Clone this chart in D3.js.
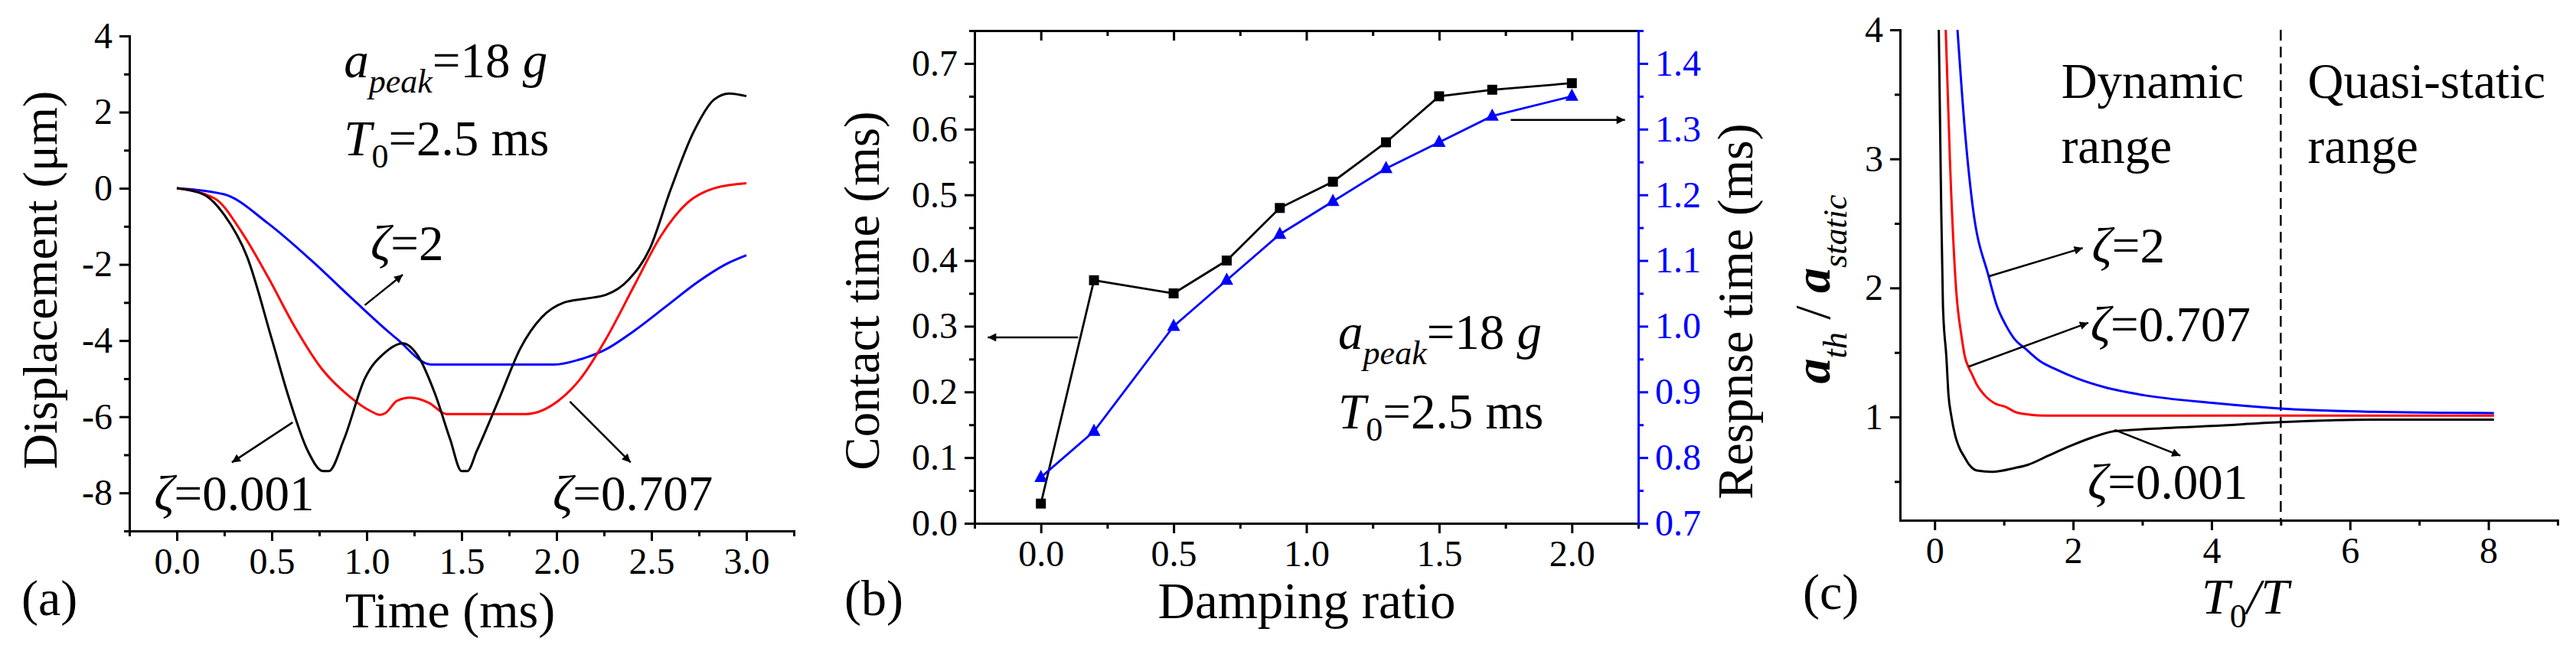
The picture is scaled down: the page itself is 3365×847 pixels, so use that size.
<!DOCTYPE html>
<html>
<head>
<meta charset="utf-8">
<script src="https://d3js.org/d3.v7.min.js"></script>
</head>
<body style="margin:0; background:#fff">
<div id="fig"></div>
<script>

// ---------- data ----------

// (a) displacement (um) vs time (ms)
var timeA_001 = [0, 0.14, 0.25, 0.37, 0.5, 0.59, 0.69, 0.77, 0.80, 0.88, 0.99, 1.1, 1.19, 1.27, 1.36, 1.44, 1.50, 1.53, 1.58, 1.7, 1.81, 1.92, 2.04, 2.15, 2.26, 2.38, 2.49, 2.6, 2.72, 2.83, 2.91, 3.0];
var dispA_001 = [0, -0.16, -0.7, -1.8, -3.96, -5.5, -6.9, -7.43, -7.43, -6.6, -5.0, -4.3, -4.07, -4.4, -5.4, -6.6, -7.43, -7.43, -6.9, -5.5, -4.2, -3.4, -3.0, -2.9, -2.8, -2.4, -1.6, -0.05, 1.46, 2.33, 2.49, 2.42];
var timeA_707 = [0, 0.2, 0.34, 0.48, 0.62, 0.76, 0.91, 1.02, 1.07, 1.1, 1.16, 1.23, 1.33, 1.42, 1.84, 2.01, 2.12, 2.26, 2.41, 2.55, 2.69, 2.83, 3.0];
var dispA_707 = [0, -0.27, -1.14, -2.33, -3.63, -4.72, -5.47, -5.85, -5.95, -5.9, -5.58, -5.5, -5.64, -5.93, -5.93, -5.58, -5.04, -3.96, -2.55, -1.25, -0.38, 0, 0.13];
var timeA_2 = [0, 0.25, 0.48, 0.71, 0.93, 1.16, 1.34, 1.99, 2.12, 2.26, 2.41, 2.58, 2.75, 2.89, 3.0];
var dispA_2 = [0, -0.16, -0.92, -1.9, -2.93, -3.96, -4.63, -4.63, -4.5, -4.23, -3.74, -3.09, -2.44, -2.0, -1.76];

// (b) contact / response time vs damping ratio
var dampingB = [0, 0.2, 0.5, 0.7, 0.9, 1.1, 1.3, 1.5, 1.7, 2.0];
var contactB = [0.03, 0.37, 0.35, 0.40, 0.48, 0.52, 0.58, 0.65, 0.66, 0.67];
var responseB = [0.77, 0.84, 1.00, 1.07, 1.14, 1.19, 1.24, 1.28, 1.32, 1.35];

// (c) a_th / a_static vs T0/T
var ratioC_001 = [0.06, 0.09, 0.12, 0.17, 0.20, 0.24, 0.30, 0.35, 0.43, 0.50, 0.61, 0.83, 1.16, 1.35, 1.64, 1.98, 2.27, 2.60, 3.01, 4.0, 5.0, 6.35, 8.08];
var accC_001 = [4.0, 2.8, 1.86, 1.46, 1.17, 1.01, 0.85, 0.77, 0.69, 0.63, 0.585, 0.575, 0.605, 0.63, 0.70, 0.78, 0.84, 0.89, 0.905, 0.93, 0.96, 0.98, 0.98];
var ratioC_707 = [0.16, 0.22, 0.31, 0.39, 0.44, 0.49, 0.54, 0.61, 0.72, 0.89, 1.02, 1.16, 1.35, 1.61, 8.08];
var accC_707 = [4.0, 3.0, 1.99, 1.62, 1.46, 1.385, 1.33, 1.25, 1.17, 1.10, 1.08, 1.04, 1.02, 1.01, 1.01];
var ratioC_2 = [0.33, 0.44, 0.55, 0.78, 0.90, 1.02, 1.16, 1.31, 1.53, 1.75, 2.05, 2.46, 3.01, 4.0, 5.18, 6.35, 8.08];
var accC_2 = [4.0, 3.2, 2.63, 2.09, 1.86, 1.72, 1.60, 1.53, 1.43, 1.37, 1.30, 1.23, 1.17, 1.11, 1.06, 1.04, 1.03];

// tick values
var ticksA_x = [0, 0.5, 1, 1.5, 2, 2.5, 3];
var minorA_x = [-0.25, 0.25, 0.75, 1.25, 1.75, 2.25, 2.75, 3.25];
var ticksA_y = [-8, -6, -4, -2, 0, 2, 4];
var minorA_y = [-9, -7, -5, -3, -1, 1, 3];
var ticksB_x = [0, 0.5, 1, 1.5, 2];
var minorB_x = [-0.25, 0.25, 0.75, 1.25, 1.75, 2.25];
var ticksB_yl = [0, 0.1, 0.2, 0.3, 0.4, 0.5, 0.6, 0.7];
var minorB_yl = [0.05, 0.15, 0.25, 0.35, 0.45, 0.55, 0.65, 0.75];
var ticksB_yr = [0.7, 0.8, 0.9, 1.0, 1.1, 1.2, 1.3, 1.4];
var minorB_yr = [0.75, 0.85, 0.95, 1.05, 1.15, 1.25, 1.35, 1.45];
var ticksC_x = [0, 2, 4, 6, 8];
var minorC_x = [1, 3, 5, 7, 9];
var ticksC_y = [1, 2, 3, 4];
var minorC_y = [0.5, 1.5, 2.5, 3.5];

// ---------- drawing ----------

var serif = "Liberation Serif";

var svg = d3.select("#fig").append("svg")
    .attr("width", 3365)
    .attr("height", 847)
    .style("display", "block")
    .style("background", "#fff");

var blue = "#0000ff";

// arrow head
svg.append("defs").append("marker")
    .attr("id", "head")
    .attr("viewBox", "0 0 10 10")
    .attr("refX", 10).attr("refY", 5)
    .attr("markerUnits", "userSpaceOnUse")
    .attr("markerWidth", 18).attr("markerHeight", 11)
    .attr("orient", "auto")
  .append("path")
    .attr("d", "M0,0 L10,5 L0,10 z")
    .attr("fill", "#000");

function zip(xs, ys) {
  return xs.map(function(x, i) { return {x: x, y: ys[i]}; });
}

// draws one axis: major ticks with labels + minor ticks
function axis(g, maker, scale, majors, minors, fmt, color, inward) {
  var sgn = inward ? -1 : 1;
  var a = g.append("g")
    .call(maker(scale).tickValues(majors).tickSize(13 * sgn).tickSizeOuter(0)
      .tickPadding(inward ? 20 : 9).tickFormat(fmt));
  a.selectAll("path, line").attr("stroke", color).attr("stroke-width", 3);
  a.select(".domain").attr("stroke-linecap", "square");
  a.selectAll("text")
    .attr("fill", color)
    .style("font-size", "48px");
  var m = g.append("g")
    .call(maker(scale).tickValues(minors).tickSize(7 * sgn).tickFormat(""));
  m.select(".domain").remove();
  m.selectAll("line").attr("stroke", color).attr("stroke-width", 3);
  return a;
}

function curve(g, xs, ys, xs_, ys_, color) {
  g.append("path")
    .datum(zip(xs_, ys_))
    .attr("fill", "none")
    .attr("stroke", color)
    .attr("stroke-width", 3)
    .attr("stroke-linejoin", "round")
    .attr("d", d3.line()
      .curve(d3.curveMonotoneX)
      .x(function(d) { return xs(d.x); })
      .y(function(d) { return ys(d.y); }));
}

function arrow(g, x1, y1, x2, y2) {
  g.append("line")
    .attr("x1", x1).attr("y1", y1).attr("x2", x2).attr("y2", y2)
    .attr("stroke", "#000").attr("stroke-width", 2.5)
    .attr("marker-end", "url(#head)");
}

// text like  ζ=0.707
function zeta(g, x, y, val) {
  var t = g.append("text").attr("x", x).attr("y", y).style("font-size", "65px");
  t.append("tspan").style("font-style", "italic").text("ζ");
  t.append("tspan").text("=" + val);
}

// a_peak=18 g  /  T0=2.5 ms
function peakText(g, x, y1, y2) {
  var t = g.append("text").attr("x", x).attr("y", y1).style("font-size", "65px");
  t.append("tspan").style("font-style", "italic").text("a");
  t.append("tspan").style("font-style", "italic").style("font-size", "44px").attr("dy", 20).text("peak");
  t.append("tspan").attr("dy", -20).text("=18 ");
  t.append("tspan").style("font-style", "italic").text("g");
  var s = g.append("text").attr("x", x).attr("y", y2).style("font-size", "65px");
  s.append("tspan").style("font-style", "italic").text("T");
  s.append("tspan").style("font-size", "44px").attr("dy", 16).text("0");
  s.append("tspan").attr("dy", -16).text("=2.5 ms");
}

function label(g, x, y, txt, size, rot) {
  return g.append("text")
    .attr("transform", "translate(" + x + "," + y + ")" + (rot ? " rotate(-90)" : ""))
    .attr("text-anchor", "middle")
    .style("font-size", size + "px")
    .text(txt);
}

var fmt1 = function(d) { return d.toFixed(1); };
var fmt0 = function(d) { return String(d); };

// ================= panel (a) =================
var ga = svg.append("g");
var xA = d3.scaleLinear().domain([-0.25, 3.25]).range([169, 1037]);
var yA = d3.scaleLinear().domain([-9, 4]).range([694, 47]);

axis(ga.append("g").attr("transform", "translate(0,694)"), d3.axisBottom, xA, ticksA_x, minorA_x, fmt1, "#000");
axis(ga.append("g").attr("transform", "translate(169,0)"), d3.axisLeft, yA, ticksA_y, minorA_y, fmt0, "#000");

curve(ga, xA, yA, timeA_2, dispA_2, blue);
curve(ga, xA, yA, timeA_707, dispA_707, "#ff0000");
curve(ga, xA, yA, timeA_001, dispA_001, "#000");

arrow(ga, xA(0.99), yA(-3.07), xA(1.19), yA(-2.27));
arrow(ga, xA(0.61), yA(-6.15), xA(0.29), yA(-7.2));
arrow(ga, xA(2.07), yA(-5.6), xA(2.39), yA(-7.2));

zeta(ga, xA(1.02), yA(-1.89), "2");
zeta(ga, xA(-0.12), yA(-8.45), "0.001");
zeta(ga, xA(1.98), yA(-8.45), "0.707");
peakText(ga, xA(0.88), yA(2.91), yA(0.86));

label(ga, 588, 820, "Time (ms)", 66);
label(ga, 74, 366, "Displacement (μm)", 64, true);
ga.append("text").attr("x", 28).attr("y", 804).style("font-size", "66px").text("(a)");

// ================= panel (b) =================
var gb = svg.append("g");
var xB = d3.scaleLinear().domain([-0.25, 2.25]).range([1273, 2140]);
var yBL = d3.scaleLinear().domain([0, 0.75]).range([684, 40]);
var yBR = d3.scaleLinear().domain([0.7, 1.45]).range([684, 40]);

axis(gb.append("g").attr("transform", "translate(0,40)"), d3.axisTop, xB, ticksB_x, minorB_x, "", "#000", true);
axis(gb.append("g").attr("transform", "translate(0,684)"), d3.axisBottom, xB, ticksB_x, minorB_x, fmt1, "#000");
axis(gb.append("g").attr("transform", "translate(1273,0)"), d3.axisLeft, yBL, ticksB_yl, minorB_yl, fmt1, "#000");
axis(gb.append("g").attr("transform", "translate(2140,0)"), d3.axisRight, yBR, ticksB_yr, minorB_yr, fmt1, blue);

var lineB = function(ys) {
  return d3.line().x(function(d) { return xB(d.x); }).y(function(d) { return ys(d.y); });
};
gb.append("path").datum(zip(dampingB, contactB))
  .attr("fill", "none").attr("stroke", "#000").attr("stroke-width", 2.8)
  .attr("d", lineB(yBL));
gb.selectAll(".sq").data(zip(dampingB, contactB)).enter().append("rect")
  .attr("x", function(d) { return xB(d.x) - 6.5; })
  .attr("y", function(d) { return yBL(d.y) - 6.5; })
  .attr("width", 13).attr("height", 13)
  .attr("fill", "#000");

gb.append("path").datum(zip(dampingB, responseB))
  .attr("fill", "none").attr("stroke", blue).attr("stroke-width", 2.8)
  .attr("d", lineB(yBR));
gb.selectAll(".tri").data(zip(dampingB, responseB)).enter().append("path")
  .attr("transform", function(d) { return "translate(" + xB(d.x) + "," + yBR(d.y) + ")"; })
  .attr("d", "M0,-10 L8.5,6 L-8.5,6 Z")
  .attr("fill", blue);

arrow(gb, xB(0.14), yBL(0.283), xB(-0.2), yBL(0.283));
arrow(gb, xB(1.77), yBR(1.314), xB(2.2), yBR(1.314));

peakText(gb, xB(1.12), yBL(0.265), yBL(0.144));

label(gb, 1707, 808, "Damping ratio", 67);
label(gb, 1148, 380, "Contact time (ms)", 65, true);
label(gb, 2289, 407, "Respnse time (ms)", 66, true);
gb.append("text").attr("x", 1103).attr("y", 804).style("font-size", "66px").text("(b)");

// ================= panel (c) =================
var gc = svg.append("g");
var xC = d3.scaleLinear().domain([-0.5, 9]).range([2482, 3341]);
var yC = d3.scaleLinear().domain([0.2, 4]).range([680, 39]);

axis(gc.append("g").attr("transform", "translate(0,680)"), d3.axisBottom, xC, ticksC_x, minorC_x, fmt0, "#000");
axis(gc.append("g").attr("transform", "translate(2482,0)"), d3.axisLeft, yC, ticksC_y, minorC_y, fmt0, "#000");

// boundary between dynamic and quasi-static range
gc.append("line")
  .attr("x1", xC(5)).attr("x2", xC(5))
  .attr("y1", yC(4)).attr("y2", yC(0.2))
  .attr("stroke", "#000").attr("stroke-width", 2.5)
  .attr("stroke-dasharray", "14,8");

curve(gc, xC, yC, ratioC_2, accC_2, blue);
curve(gc, xC, yC, ratioC_707, accC_707, "#ff0000");
curve(gc, xC, yC, ratioC_001, accC_001, "#000");

arrow(gc, xC(0.78), yC(2.09), xC(2.14), yC(2.31));
arrow(gc, xC(0.49), yC(1.39), xC(2.22), yC(1.73));
arrow(gc, xC(2.6), yC(0.9), xC(3.55), yC(0.7));

zeta(gc, xC(2.27), yC(2.2), "2");
zeta(gc, xC(2.25), yC(1.59), "0.707");
zeta(gc, xC(2.21), yC(0.366), "0.001");

gc.append("text").attr("x", xC(1.83)).attr("y", yC(3.47)).style("font-size", "65px").text("Dynamic");
gc.append("text").attr("x", xC(1.83)).attr("y", yC(2.97)).style("font-size", "65px").text("range");
gc.append("text").attr("x", xC(5.39)).attr("y", yC(3.47)).style("font-size", "65px").text("Quasi-static");
gc.append("text").attr("x", xC(5.39)).attr("y", yC(2.97)).style("font-size", "65px").text("range");

// x label  T0/T
var tx = gc.append("text").attr("x", 2933).attr("y", 802)
  .attr("text-anchor", "middle").style("font-size", "66px");
tx.append("tspan").style("font-style", "italic").text("T");
tx.append("tspan").style("font-size", "44px").attr("dy", 18).text("0");
tx.append("tspan").style("font-style", "italic").attr("dy", -18).text("/T");

// y label  a_th / a_static
var ty = gc.append("text")
  .attr("transform", "translate(2390,378) rotate(-90)")
  .attr("text-anchor", "middle")
  .style("font-size", "66px");
ty.append("tspan").style("font-style", "italic").style("font-weight", "bold").text("a");
ty.append("tspan").style("font-style", "italic").style("font-size", "44px").attr("dy", 22).text("th");
ty.append("tspan").attr("dy", -22).text(" / ");
ty.append("tspan").style("font-style", "italic").style("font-weight", "bold").text("a");
ty.append("tspan").style("font-style", "italic").style("font-size", "44px").attr("dy", 22).text("static");

gc.append("text").attr("x", 2355).attr("y", 796).style("font-size", "66px").text("(c)");

// every text in Times-like serif
svg.selectAll("text").style("font-family", serif);

</script>
</body>
</html>
